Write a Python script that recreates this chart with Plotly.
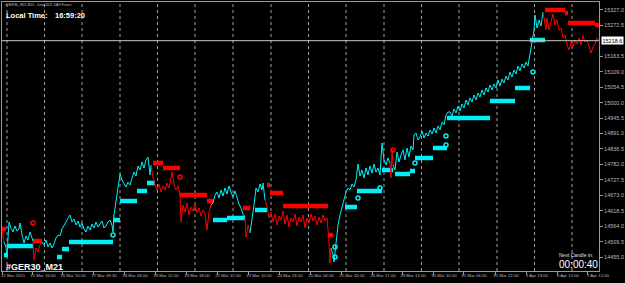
import plotly.graph_objects as go

# ---------------- data ----------------
bar_idx = [2, 3, 4,
           6, 7, 8, 9, 11, 13, 15, 17, 19, 20, 22, 24, 26, 28, 30, 32, 33,
           34, 36, 38, 40, 42,
           44, 46, 48, 50, 52, 54, 56, 58, 60, 62, 64, 66, 68, 70,
           72, 74, 76, 78, 80, 82, 84, 86, 88, 90, 92, 94, 96, 98, 100, 102, 104, 106, 108, 110, 112,
           113, 114, 116, 118, 120, 122, 124, 126, 128, 130, 132, 134, 136, 138, 140, 142, 144, 146, 148, 150, 151,
           153, 155, 157, 159, 161, 163, 165, 167, 169, 171, 172, 174, 176, 178, 180, 181,
           183, 185, 187, 189, 191, 193, 195, 197, 199, 201, 203, 205, 207, 209, 211,
           213, 215, 217, 219, 221, 223, 225, 227, 229, 231, 233, 235, 237, 239, 241, 243, 245,
           246, 248, 250,
           252, 254, 256, 258, 260, 262, 263, 265,
           267, 269, 271, 273, 275, 277, 279, 281, 283, 285, 287, 289, 291, 293, 295, 297, 299, 301, 303, 305,
           307, 309, 311, 313, 315, 317, 319, 321, 323, 325, 327, 329, 330, 331,
           333, 334, 336, 338, 340, 342, 344, 346, 348, 350, 352, 354, 356, 358, 360, 362, 364, 366, 368, 370,
           372, 374, 376, 378, 380, 382, 384, 386, 388, 390,
           391, 392, 393,
           395, 397, 399, 401, 403, 405, 407, 409, 411, 413, 414, 416, 418, 420, 422, 424, 426, 428, 430, 432,
           434, 436, 438, 440, 442, 444, 446, 448, 450, 452, 454, 456, 458, 460, 462, 464, 466, 468, 470, 472,
           474, 476, 478, 480, 482, 484, 486, 488, 490, 492, 494, 496, 498, 500, 502, 504, 506, 508, 510, 512,
           514, 516, 518, 520, 522, 524, 526, 528, 530, 532, 534, 535, 537, 539, 541, 543,
           545, 546, 547, 549, 551, 553, 555, 557, 559, 561, 563, 565, 567, 569, 571, 573, 575, 577, 579, 581,
           583, 585, 587, 589, 591, 593, 595, 597, 599]

close = [14550.4, 14529.2, 14508.0,
         14490.4, 14462.2, 14522.2, 14578.6, 14557.5, 14543.3, 14564.5, 14546.9, 14553.9, 14575.1, 14532.8,
         14504.5, 14529.2, 14515.1, 14543.3, 14522.2, 14511.6,
         14444.5, 14486.9, 14472.7, 14497.5, 14508.0,
         14497.5, 14515.1, 14490.4, 14504.5, 14486.9, 14501.0, 14522.2, 14532.8, 14529.2, 14553.9, 14564.5,
         14578.6, 14592.8, 14603.4,
         14578.6, 14589.2, 14568.1, 14582.2, 14561.0, 14575.1, 14553.9, 14543.3, 14564.5, 14550.4, 14571.6,
         14557.5, 14578.6, 14561.0, 14571.6, 14582.2, 14557.5, 14564.5, 14578.6, 14585.7, 14568.1,
         14543.3, 14603.4, 14656.3, 14691.6, 14748.1, 14726.9, 14716.3, 14702.2, 14719.8, 14709.3, 14734.0,
         14755.1, 14741.0, 14776.3, 14762.2, 14790.4, 14769.3, 14797.5, 14808.1, 14744.6, 14779.9,
         14734.0, 14709.3, 14691.6, 14712.8, 14684.5, 14705.7, 14691.6, 14716.3, 14698.7, 14734.0, 14755.1,
         14709.3, 14691.6, 14705.7, 14674.0, 14578.6,
         14638.7, 14613.9, 14645.7, 14603.4, 14631.6, 14617.5, 14642.2, 14610.4, 14628.1, 14599.8, 14621.0,
         14606.9, 14550.4, 14613.9, 14638.7,
         14645.7, 14674.0, 14684.5, 14663.4, 14691.6, 14670.4, 14698.7, 14677.5, 14705.7, 14684.5, 14666.9,
         14688.1, 14659.8, 14642.2, 14628.1, 14606.9, 14596.3,
         14525.7, 14568.1, 14539.8,
         14585.7, 14638.7, 14698.7, 14684.5, 14712.8, 14691.6, 14716.3, 14656.3,
         14631.6, 14592.8, 14613.9, 14578.6, 14606.9, 14568.1, 14599.8, 14585.7, 14617.5, 14571.6, 14603.4,
         14561.0, 14592.8, 14578.6, 14606.9, 14564.5, 14596.3, 14578.6, 14603.4, 14557.5,
         14592.8, 14575.1, 14606.9, 14582.2, 14599.8, 14568.1, 14596.3, 14575.1, 14603.4, 14582.2, 14592.8,
         14508.0, 14433.9, 14486.9,
         14462.2, 14437.4, 14515.1, 14568.1, 14603.4, 14631.6, 14656.3, 14684.5, 14698.7, 14691.6, 14712.8,
         14702.2, 14726.9, 14783.4, 14741.0, 14762.2, 14734.0, 14769.3, 14744.6, 14776.3,
         14751.6, 14783.4, 14755.1, 14769.3, 14744.6, 14857.5, 14797.5, 14779.9, 14804.6, 14786.9,
         14734.0, 14832.8, 14779.9,
         14762.2, 14825.7, 14790.4, 14815.2, 14832.8, 14797.5, 14839.9, 14808.1, 14846.9, 14832.8, 14885.8,
         14892.8, 14868.1, 14878.7, 14899.9, 14875.2, 14892.8, 14882.2, 14903.4, 14889.3,
         14910.5, 14892.8, 14917.5, 14903.4, 14931.6, 14921.1, 14956.4, 14966.9, 14966.9, 14952.8, 14977.5,
         14963.4, 14988.1, 14970.5, 14995.2, 14981.1, 15009.3, 14991.7, 15016.4, 15002.2,
         15027.0, 15009.3, 15034.0, 15019.9, 15044.6, 15027.0, 15051.7, 15037.5, 15062.3, 15044.6, 15065.8,
         15051.7, 15079.9, 15058.7, 15083.4, 15069.3, 15094.0, 15079.9, 15108.1, 15090.5,
         15115.2, 15101.1, 15129.3, 15111.7, 15136.4, 15122.3, 15143.4, 15129.3, 15168.2, 15203.5, 15256.4,
         15309.4, 15263.5, 15291.7, 15270.5, 15319.9,
         15284.6, 15256.4, 15298.8, 15256.4, 15284.6, 15312.9, 15274.0, 15291.7, 15256.4, 15263.5, 15228.2,
         15238.8, 15203.5, 15185.8, 15214.0, 15196.4, 15221.1, 15207.0, 15228.2, 15203.5,
         15235.2, 15214.0, 15221.1, 15192.9, 15175.2, 15196.4, 15207.0, 15228.2, 15218.6]

# bars where the line colour flips (starts red / down)
trend_switch_bars = [6, 34, 44, 153, 213, 246, 252, 267, 333, 391, 395, 545]

# thick step lines (support = aqua, resistance = red)
support_start = [4, 8, 57, 62, 69, 113, 120, 137, 147, 213, 227, 255, 345, 357, 382, 395, 410, 415, 433, 447, 490, 515, 530]
support_end = [8, 33, 62, 69, 113, 120, 137, 147, 155, 227, 245, 267, 357, 382, 393, 410, 415, 433, 447, 490, 515, 530, 545]
support_level = [14462.2, 14493.9, 14455.1, 14483.3, 14508.0, 14585.7, 14652.8, 14688.1, 14716.3, 14585.7, 14592.8,
                 14621.0, 14631.6, 14688.1, 14762.2, 14748.1, 14758.7, 14804.6, 14839.9, 14945.8, 15005.8,
                 15051.7, 15221.1]

resist_start = [1, 33, 153, 163, 180, 207, 243, 267, 270, 283, 328, 545, 565, 568, 595]
resist_end = [6, 42, 163, 180, 207, 213, 250, 270, 283, 328, 333, 565, 568, 595, 599]
resist_level = [14553.9, 14511.6, 14786.9, 14769.3, 14674.0, 14652.8, 14628.1, 14709.3, 14681.0, 14635.1,
                14532.8, 15327.0, 15316.4, 15281.1, 15274.0]

# small signal marks
up_mark_bars = [113, 335, 335, 358, 380, 415, 446, 446, 533]
up_mark_price = [14532.8, 14455.1, 14490.4, 14663.4, 14698.7, 14786.9, 14882.2, 14850.5, 15108.1]
dn_mark_bars = [33, 180, 393]
dn_mark_price = [14575.1, 14737.5, 14832.8]

current_price = 15218.6

day_separators = [7, 44.5, 82, 120, 157.5, 195, 233, 271, 308.5, 346, 384, 421.5, 459, 497, 534.5, 572]

x_tick_start = [2, 32, 62, 93, 124, 155, 186, 217, 248, 279, 310, 341, 372, 402, 433, 463, 495, 526, 557, 587]
x_tick_text = ["12 Mar 2021", "15 Mar 16:00", "16 Mar 10:00", "17 Mar 09:30", "18 Mar 06:00", "18 Mar 22:00",
               "19 Mar 18:00", "22 Mar 15:00", "23 Mar 10:00", "24 Mar 03:00", "25 Mar 04:00", "25 Mar 20:00",
               "26 Mar 17:00", "29 Mar 13:00", "30 Mar 10:00", "31 Mar 06:00", "31 Mar 22:00", "1 Apr 19:00",
               "6 Apr 15:00", "7 Apr 12:00"]

y_tick_vals = [15327.0, 15272.5, 15163.5, 15109.0, 15054.5, 15000.0, 14945.5, 14891.0, 14836.5,
               14782.0, 14727.5, 14673.0, 14618.5, 14564.0, 14509.5, 14455.0]

# ---------------- figure ----------------
AQUA = "#00f0f8"
RED = "#ff0000"
W, H = 625, 283
ML, MR, MT, MB = 2, 26, 2, 12
X0, X1 = 2, 599
Y_TOP, Y_BOT = 15355.2, 14405.7

fig = go.Figure()


def steps(starts, ends, levels):
    xs, ys = [], []
    for s, e, l in zip(starts, ends, levels):
        xs += [s, e, None]
        ys += [l, l, None]
    return xs, ys


sx, sy = steps(support_start, support_end, support_level)
rx, ry = steps(resist_start, resist_end, resist_level)
fig.add_trace(go.Scatter(x=sx, y=sy, mode="lines", line=dict(color=AQUA, width=4.5), hoverinfo="skip"))
fig.add_trace(go.Scatter(x=rx, y=ry, mode="lines", line=dict(color=RED, width=4.5), hoverinfo="skip"))

# price line coloured by trend
trend = []
for b in bar_idx:
    n = sum(1 for s in trend_switch_bars if b >= s)
    trend.append(-1 if n % 2 == 0 else 1)

runs = []
start = 0
for i in range(1, len(bar_idx) + 1):
    if i == len(bar_idx) or trend[i] != trend[start]:
        runs.append((start, i))
        start = i
for a, b in runs:
    lo = a - 1 if a > 0 else a
    col = AQUA if trend[a] == 1 else RED
    fig.add_trace(go.Scatter(x=bar_idx[lo:b], y=close[lo:b], mode="lines",
                             line=dict(color=col, width=1), hoverinfo="skip"))

fig.add_trace(go.Scatter(x=up_mark_bars, y=up_mark_price, mode="markers",
                         marker=dict(symbol="circle-open", size=4, color=AQUA, line=dict(width=1.5))))
fig.add_trace(go.Scatter(x=dn_mark_bars, y=dn_mark_price, mode="markers",
                         marker=dict(symbol="circle-open", size=4, color=RED, line=dict(width=1.5))))

shapes = []
for d in day_separators:
    shapes.append(dict(type="line", xref="x", yref="paper", x0=d, x1=d, y0=0, y1=1,
                       line=dict(color="#a0a0a0", width=1, dash="dot"), layer="below"))
shapes.append(dict(type="line", xref="paper", yref="y", x0=0, x1=1, y0=current_price, y1=current_price,
                   line=dict(color="#c8c8c8", width=1)))


def px(x):
    return (x - ML) / (W - ML - MR)


def py(y):
    return 1 - (y - MT) / (H - MT - MB)


FONT = "Liberation Sans"
ann = [
    dict(x=px(3), y=py(5), text="#GER30_M21,M15:  June 2021 DAX Future", font=dict(size=3.4, color="#c0c0c0")),
    dict(x=px(4), y=py(16), text="<b>Local Time:</b>", font=dict(size=7.5, color="#ffffff")),
    dict(x=px(53), y=py(16), text="<b>16:59:20</b>", font=dict(size=7.5, color="#ffffff")),
    dict(x=px(4), y=py(267), text="<b>#GER30_M21</b>", font=dict(size=9, color="#ffffff")),
    dict(x=px(557), y=py(255), text="Next Candle in:", font=dict(size=5, color="#e0e0e0")),
    dict(x=px(557), y=py(264), text="00:00:40", font=dict(size=10, color="#ffffff")),
]
annotations = []
for a in ann:
    a.update(xref="paper", yref="paper", xanchor="left", yanchor="middle", showarrow=False)
    a["font"]["family"] = FONT
    annotations.append(a)
annotations.append(dict(xref="paper", yref="y", x=1.0, y=current_price, xanchor="left", yanchor="middle",
                        text="%.1f" % current_price, showarrow=False, bgcolor="#ffffff", borderpad=0.5,
                        font=dict(family=FONT, size=5.5, color="#000000"), xshift=2))

fig.update_layout(
    width=W, height=H,
    margin=dict(l=ML, r=MR, t=MT, b=MB, autoexpand=False),
    paper_bgcolor="#000000", plot_bgcolor="#000000",
    showlegend=False,
    shapes=shapes,
    annotations=annotations,
    xaxis=dict(range=[X0, X1], showgrid=False, zeroline=False,
               tickmode="array", tickvals=[s + 11 for s in x_tick_start], ticktext=x_tick_text,
               ticks="", tickfont=dict(family=FONT, size=4.3, color="#b8b8b8"),
               showline=True, linecolor="#9a9a9a", linewidth=1, mirror=True,
               minor=dict(tickmode="array", tickvals=x_tick_start, ticks="outside", ticklen=3,
                          tickcolor="#9a9a9a")),
    yaxis=dict(range=[Y_BOT, Y_TOP], side="right", showgrid=False, zeroline=False,
               tickmode="array", tickvals=y_tick_vals, tickformat=".1f",
               ticks="outside", ticklen=3, tickcolor="#9a9a9a",
               tickfont=dict(family=FONT, size=5.5, color="#b8b8b8"),
               showline=True, linecolor="#9a9a9a", linewidth=1, mirror=True),
)

fig.write_html("out.html")
